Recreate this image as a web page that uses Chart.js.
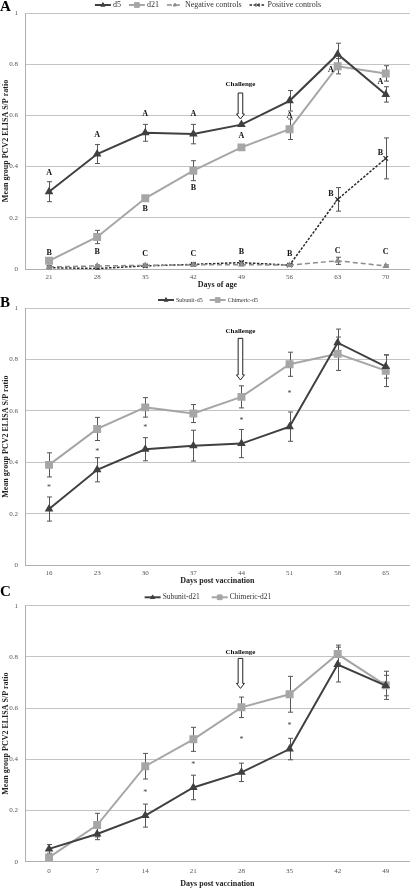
<!DOCTYPE html>
<html>
<head>
<meta charset="utf-8">
<script src="https://cdn.jsdelivr.net/npm/chart.js@4.4.0/dist/chart.umd.min.js"></script>
<style>
  html, body { margin: 0; padding: 0; background: #fff; }
  .panel { position: absolute; left: 0; width: 416px; }
</style>
</head>
<body>
<div class="panel" style="top:0;height:290px"><canvas id="chartA"></canvas></div>
<div class="panel" style="top:290px;height:296px"><canvas id="chartB"></canvas></div>
<div class="panel" style="top:586px;height:303px"><canvas id="chartC"></canvas></div>
<script>
// ---- panel A : days of age ----
const daysOfAge = ['21', '28', '35', '42', '49', '56', '63', '70'];
const d5Mean  = [0.302, 0.449, 0.532, 0.527, 0.564, 0.657, 0.839, 0.682];
const d5Err   = [0.039, 0.037, 0.033, 0.038, 0.005, 0.040, 0.043, 0.030];
const d21Mean = [0.032, 0.125, 0.276, 0.384, 0.475, 0.546, 0.792, 0.764];
const d21Err  = [0.008, 0.026, 0.006, 0.039, 0.008, 0.040, 0.030, 0.030];
const negMean = [0.008, 0.012, 0.014, 0.016, 0.017, 0.015, 0.032, 0.012];
const negErr  = [0.004, 0.004, 0.004, 0.004, 0.004, 0.004, 0.014, 0.004];
const posMean = [0.005, 0.002, 0.012, 0.018, 0.025, 0.015, 0.272, 0.432];
const posErr  = [0.004, 0.004, 0.005, 0.005, 0.006, 0.005, 0.046, 0.080];
// significance letters: [text, category index, value]
const lettersA = [
  ['A', 0, 0.374], ['A', 1, 0.523], ['A', 2, 0.607], ['A', 3, 0.607],
  ['A', 4, 0.518], ['A', 5, 0.598], ['A', 5.86, 0.777], ['A', 6.89, 0.729],
  ['B', 0, 0.064], ['B', 1, 0.065], ['B', 2, 0.233], ['B', 3, 0.315],
  ['B', 4, 0.068], ['B', 5, 0.059], ['B', 5.86, 0.292], ['B', 6.89, 0.454],
  ['C', 2, 0.059], ['C', 3, 0.059], ['C', 6, 0.071], ['C', 7, 0.065]
];

// ---- panel B : days post vaccination (d5) ----
const daysPostB = ['16', '23', '30', '37', '44', '51', '58', '65'];
const subD5Mean = [0.218, 0.371, 0.451, 0.465, 0.473, 0.539, 0.866, 0.773];
const subD5Err  = [0.047, 0.047, 0.045, 0.060, 0.055, 0.057, 0.053, 0.045];
const chiD5Mean = [0.390, 0.530, 0.614, 0.590, 0.655, 0.782, 0.823, 0.757];
const chiD5Err  = [0.047, 0.045, 0.038, 0.035, 0.043, 0.047, 0.065, 0.062];
const starsB = [['*', 0, 0.31], ['*', 1, 0.448], ['*', 2, 0.543], ['*', 4, 0.571], ['*', 5, 0.676]];

// ---- panel C : days post vaccination (d21) ----
const daysPostC  = ['0', '7', '14', '21', '28', '35', '42', '49'];
const subD21Mean = [0.050, 0.108, 0.180, 0.290, 0.349, 0.440, 0.770, 0.688];
const subD21Err  = [0.017, 0.022, 0.045, 0.048, 0.036, 0.042, 0.068, 0.040];
const chiD21Mean = [0.017, 0.143, 0.373, 0.478, 0.603, 0.654, 0.811, 0.689];
const chiD21Err  = [0.008, 0.046, 0.050, 0.047, 0.040, 0.070, 0.035, 0.055];
const starsC = [['*', 2, 0.276], ['*', 3, 0.387], ['*', 4, 0.482], ['*', 5, 0.538]];

const yTicks = [0, 0.2, 0.4, 0.6, 0.8, 1];
const yTickLabels = ['0', '0.2', '0.4', '0.6', '0.8', '1'];

const DARK = '#404040';
const LIGHT = '#a6a6a6';
const SERIF = '"Liberation Serif", "Times New Roman", serif';

function darkSeries(label, data, errors) {
  return { label, data, errors, borderColor: DARK, borderWidth: 2,
    pointStyle: 'triangle', pointRadius: 3, pointBackgroundColor: DARK, pointBorderColor: DARK };
}
function lightSeries(label, data, errors) {
  return { label, data, errors, borderColor: LIGHT, borderWidth: 2,
    pointStyle: 'rect', pointRadius: 4.2, pointBackgroundColor: LIGHT, pointBorderColor: LIGHT };
}

// error bars, letters, challenge arrow, panel letter and legend
function makeExtras(cfg) {
  return {
    id: 'extras',
    beforeDatasetsDraw(chart) {
      const { ctx, scales: { y } } = chart;
      ctx.save();
      ctx.strokeStyle = '#555';
      ctx.lineWidth = 1;
      chart.data.datasets.forEach((ds, di) => {
        const meta = chart.getDatasetMeta(di);
        meta.data.forEach((pt, i) => {
          const v = ds.data[i], e = ds.errors[i];
          const top = y.getPixelForValue(v + e), bot = y.getPixelForValue(v - e);
          const x = Math.round(pt.x) + 0.5;
          ctx.beginPath();
          ctx.moveTo(x, top); ctx.lineTo(x, bot);
          ctx.moveTo(x - 2.5, top); ctx.lineTo(x + 2.5, top);
          ctx.moveTo(x - 2.5, bot); ctx.lineTo(x + 2.5, bot);
          ctx.stroke();
        });
      });
      ctx.restore();
    },
    afterDraw(chart) {
      const { ctx, scales: { x, y } } = chart;
      ctx.save();
      ctx.textAlign = 'center';
      ctx.textBaseline = 'middle';

      // letters / asterisks
      cfg.marks.forEach(([t, i, v]) => {
        if (t === '*') {
          ctx.font = '8px ' + SERIF;
          ctx.fillStyle = '#444';
          ctx.fillText(t, x.getPixelForValue(i), y.getPixelForValue(v) + 2);
        } else {
          ctx.font = 'bold 8px ' + SERIF;
          ctx.fillStyle = '#111';
          ctx.fillText(t, x.getPixelForValue(i), y.getPixelForValue(v));
        }
      });

      // challenge arrow
      const ch = cfg.challenge;
      const cx = x.getPixelForValue(ch.index) - 1;
      ctx.font = 'bold 7px ' + SERIF;
      ctx.fillStyle = '#111';
      ctx.fillText('Challenge', cx, y.getPixelForValue(ch.text));
      const top = y.getPixelForValue(ch.top), tip = y.getPixelForValue(ch.tip);
      const neck = tip - 5;
      ctx.beginPath();
      ctx.moveTo(cx - 2.3, top); ctx.lineTo(cx + 2.3, top);
      ctx.lineTo(cx + 2.3, neck); ctx.lineTo(cx + 4, neck);
      ctx.lineTo(cx, tip); ctx.lineTo(cx - 4, neck);
      ctx.lineTo(cx - 2.3, neck); ctx.closePath();
      ctx.fillStyle = '#fff';
      ctx.fill();
      ctx.strokeStyle = '#222';
      ctx.lineWidth = 1;
      ctx.stroke();

      // panel letter
      ctx.textAlign = 'left';
      ctx.font = 'bold 15px ' + SERIF;
      ctx.fillStyle = '#000';
      ctx.fillText(cfg.panel, 0, cfg.panelY);

      // legend
      ctx.font = cfg.legendSize + 'px ' + SERIF;
      const lineLen = 16;
      const items = chart.data.datasets.map(ds => ({ ds, w: lineLen + 2 + ctx.measureText(ds.label).width }));
      const total = items.reduce((s, it) => s + it.w, 0) + cfg.legendGap * (items.length - 1);
      let lx = chart.width / 2 - total / 2;
      const ly = cfg.legendY;
      items.forEach(({ ds, w }) => {
        ctx.strokeStyle = ds.borderColor;
        ctx.lineWidth = ds.borderWidth;
        ctx.setLineDash(ds.borderDash || []);
        ctx.beginPath(); ctx.moveTo(lx, ly); ctx.lineTo(lx + lineLen, ly); ctx.stroke();
        ctx.setLineDash([]);
        ctx.fillStyle = ds.pointBackgroundColor;
        ctx.strokeStyle = ds.pointBorderColor;
        ctx.lineWidth = 1;
        Chart.helpers.drawPoint(ctx, { pointStyle: ds.pointStyle, radius: ds.pointRadius * 0.8, rotation: 0, borderWidth: 1 }, lx + lineLen / 2, ly);
        ctx.fillStyle = '#333';
        ctx.fillText(ds.label, lx + lineLen + 2, ly);
        lx += w + cfg.legendGap;
      });
      ctx.restore();
    }
  };
}

function buildChart(id, labels, datasets, xTitle, layout, extrasCfg) {
  return new Chart(document.getElementById(id), {
    type: 'line',
    data: { labels, datasets },
    options: {
      responsive: true,
      maintainAspectRatio: false,
      animation: false,
      events: [],
      layout: { padding: { top: layout.top, left: 0, right: 0, bottom: 0 } },
      elements: { line: { tension: 0, fill: false } },
      plugins: { legend: { display: false }, tooltip: { enabled: false } },
      scales: {
        x: {
          offset: true,
          grid: { display: false, drawTicks: false },
          border: { color: '#b0b0b0', width: 1 },
          ticks: { color: '#555', font: { family: SERIF, size: 7 }, padding: layout.tickPad, maxRotation: 0 },
          title: { display: true, text: xTitle, color: '#222', font: { family: SERIF, size: 8, weight: 'bold' }, padding: 0 },
          afterFit: s => { s.height = layout.xHeight; }
        },
        y: {
          min: 0, max: 1,
          afterBuildTicks: s => { s.ticks = yTicks.map(v => ({ value: v })); },
          grid: { color: '#c4c4c4', lineWidth: 1, drawTicks: false },
          border: { color: '#b0b0b0', width: 1 },
          ticks: { color: '#555', font: { family: SERIF, size: 7 }, padding: 7,
                   callback: (v) => yTickLabels[yTicks.indexOf(v)] ?? String(v) },
          title: { display: true, text: 'Mean group PCV2 ELISA S/P ratio', color: '#222',
                   font: { family: SERIF, size: 8, weight: 'bold' }, padding: { top: 1, bottom: 0 } },
          afterFit: s => { s.width = 25; }
        }
      }
    },
    plugins: [makeExtras(extrasCfg)]
  });
}

buildChart('chartA', daysOfAge, [
  darkSeries('d5', d5Mean, d5Err),
  lightSeries('d21', d21Mean, d21Err),
  { label: 'Negative controls', data: negMean, errors: negErr, borderColor: '#8c8c8c', borderWidth: 1.5,
    borderDash: [5, 3], pointStyle: 'triangle', pointRadius: 2.4, pointBackgroundColor: '#8c8c8c', pointBorderColor: '#8c8c8c' },
  { label: 'Positive controls', data: posMean, errors: posErr, borderColor: '#2a2a2a', borderWidth: 1.5,
    borderDash: [2.5, 1.5], pointStyle: 'crossRot', pointRadius: 3.2, pointBorderWidth: 1.2,
    pointBackgroundColor: '#2a2a2a', pointBorderColor: '#2a2a2a' }
], 'Days of age', { top: 13, xHeight: 21, tickPad: 3.5 }, {
  marks: lettersA, panel: 'A', panelY: 7, legendY: 5, legendSize: 8, legendGap: 8,
  challenge: { index: 4, text: 0.723, top: 0.6875, tip: 0.586 }
});

buildChart('chartB', daysPostB, [
  darkSeries('Subunit-d5', subD5Mean, subD5Err),
  lightSeries('Chimeric-d5', chiD5Mean, chiD5Err)
], 'Days post vaccination', { top: 18.3, xHeight: 21, tickPad: 3.8 }, {
  marks: starsB, panel: 'B', panelY: 13, legendY: 10, legendSize: 6, legendGap: 7,
  challenge: { index: 4, text: 0.912, top: 0.883, tip: 0.721 }
});

buildChart('chartC', daysPostC, [
  darkSeries('Subunit-d21', subD21Mean, subD21Err),
  lightSeries('Chimeric-d21', chiD21Mean, chiD21Err)
], 'Days post vaccination', { top: 19.7, xHeight: 27.3, tickPad: 5 }, {
  marks: starsC, panel: 'C', panelY: 6.5, legendY: 11.3, legendSize: 7.5, legendGap: 12,
  challenge: { index: 4, text: 0.82, top: 0.794, tip: 0.677 }
});
</script>
</body>
</html>
